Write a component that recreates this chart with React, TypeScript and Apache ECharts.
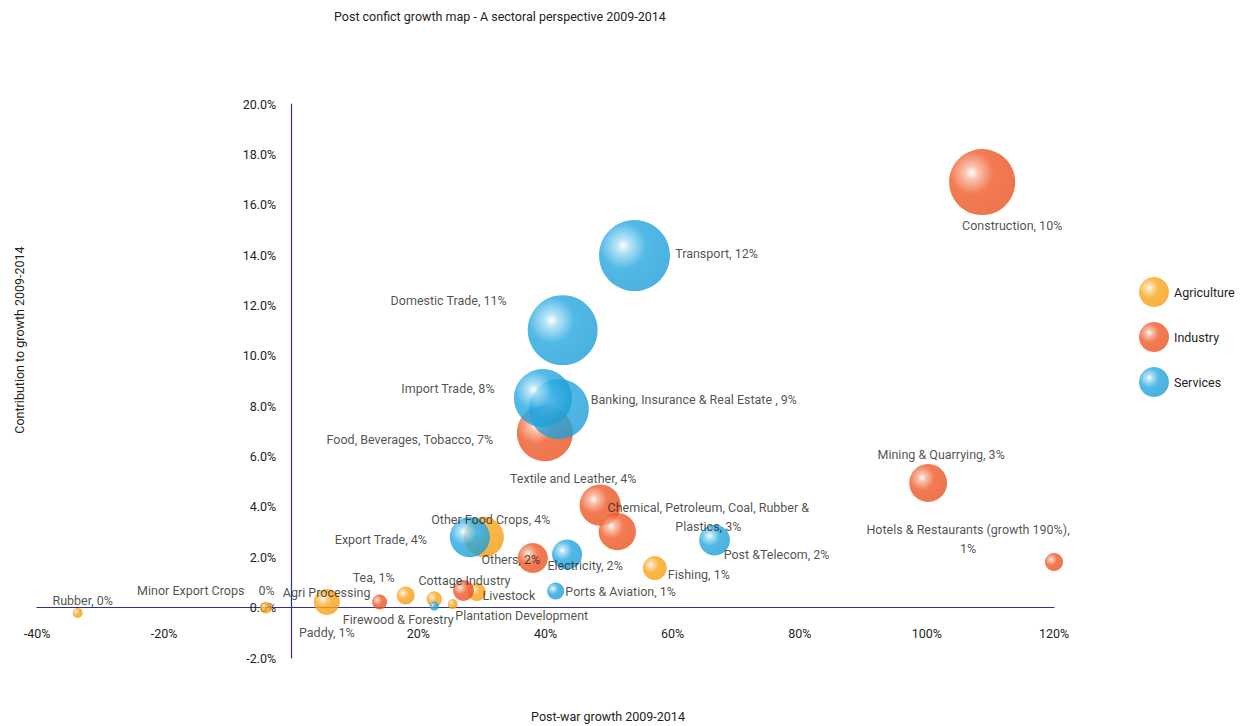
import React, { useEffect, useRef } from "react";
import * as echarts from "echarts";

// ---- data ----
const groups = ["Agriculture", "Industry", "Services"];

const sectorNames = [
  "Rubber", "Minor Export Crops", "Paddy", "Tea", "Firewood & Forestry", "Plantation Development",
  "Livestock", "Other Food Crops", "Fishing",
  "Agri Processing", "Cottage Industry", "Others", "Food, Beverages, Tobacco", "Textile and Leather",
  "Chemical, Petroleum, Coal, Rubber & Plastics", "Mining & Quarrying", "Construction", "Hotels & Restaurants",
  "(unlabelled)", "Ports & Aviation", "Electricity", "Post &Telecom", "Export Trade",
  "Banking, Insurance & Real Estate", "Import Trade", "Domestic Trade", "Transport",
];
const sectorGroup = [
  "Agriculture", "Agriculture", "Agriculture", "Agriculture", "Agriculture", "Agriculture",
  "Agriculture", "Agriculture", "Agriculture",
  "Industry", "Industry", "Industry", "Industry", "Industry",
  "Industry", "Industry", "Industry", "Industry",
  "Services", "Services", "Services", "Services", "Services",
  "Services", "Services", "Services", "Services",
];
// Post-war growth 2009-2014 (%)
const growthPct = [
  -33.6, -4.0, 5.6, 18.0, 22.5, 25.4, 29.2, 30.3, 57.2,
  13.9, 27.1, 38.0, 39.9, 48.6, 51.3, 100.2, 108.7, 120.0,
  22.5, 41.6, 43.4, 66.6, 28.1, 42.1, 39.6, 42.7, 54.0,
];
// Contribution to growth 2009-2014 (%)
const contributionPct = [
  -0.21, 0.0, 0.22, 0.48, 0.34, 0.14, 0.62, 2.8, 1.57,
  0.22, 0.68, 1.97, 6.93, 4.07, 3.02, 4.95, 16.9, 1.81,
  0.06, 0.66, 2.11, 2.68, 2.8, 7.89, 8.32, 11.02, 13.98,
];
// Share (bubble size, %)
const sharePct = [
  0.23, 0.33, 1.56, 0.75, 0.55, 0.23, 0.75, 3.7, 1.33,
  0.52, 1.0, 2.1, 7.25, 3.9, 3.2, 3.3, 10.1, 0.75,
  0.19, 0.67, 2.1, 2.2, 3.7, 8.3, 7.8, 11.3, 11.65,
];
const labelTexts = [
  "Rubber, 0%", "{a|Minor Export Crops}{b|0%}", "Paddy, 1%", "Tea, 1%", "Firewood & Forestry", "Plantation Development",
  "Livestock", "Other Food Crops, 4%", "Fishing, 1%",
  "Agri Processing", "Cottage Industry", "Others, 2%", "Food, Beverages, Tobacco, 7%", "Textile and Leather, 4%",
  "Chemical, Petroleum, Coal, Rubber &\nPlastics, 3%", "Mining & Quarrying, 3%", "Construction, 10%",
  "Hotels & Restaurants (growth 190%),\n1%",
  "", "Ports & Aviation, 1%", "Electricity, 2%", "Post &Telecom, 2%", "Export Trade, 4%",
  "Banking, Insurance & Real Estate , 9%", "Import Trade, 8%", "Domestic Trade, 11%", "Transport, 12%",
];
const xTicks = [-40, -20, 0, 20, 40, 60, 80, 100, 120];
const yTicks = [-2, 0, 2, 4, 6, 8, 10, 12, 14, 16, 18, 20];

// ---- label placement (style) ----
const labelOffsets: [number, number][] = [
  [5, -12], [-60, -17], [0, 30], [-32, -18], [-36, 20], [69, 11],
  [32, 3], [7, -18], [44, 6],
  [-53, -10], [1, -10], [-22, 1], [-135, 6], [-27, -27],
  [91, -15], [13, -28], [30, 43], [-86, -23],
  [0, 0], [65, 0], [18, 11], [62, 14], [-89, 2],
  [135, -9], [-95, -10], [-114, -30], [82, -2],
];

const FONT = "Roboto, 'Liberation Sans', sans-serif";
const FS = 12.5;
const TXT = "#231f20";
const AXIS = "#2e3192";

// grid geometry (px)
const G_LEFT = 37, G_RIGHT = 190, G_TOP = 104, G_BOTTOM = 68;
const PLOT_W = 1244 - G_LEFT - G_RIGHT;
const PLOT_H = 726 - G_TOP - G_BOTTOM;

const palette: Record<string, [string, string, string]> = {
  Agriculture: ["#f9a51a", "#fdd69a", "#f59d12"],
  Industry: ["#ef5a28", "#f8b49a", "#e9521f"],
  Services: ["#26a8e0", "#a2dcf5", "#1e9dd6"],
};

function ball(g: string) {
  const [base, light, edge] = palette[g];
  return {
    type: "radial",
    x: 0.34,
    y: 0.36,
    r: 0.72,
    colorStops: [
      { offset: 0, color: "#ffffff" },
      { offset: 0.14, color: light },
      { offset: 0.45, color: base },
      { offset: 1, color: edge },
    ],
  } as any;
}

export default function App() {
  const ref = useRef<HTMLDivElement>(null);
  useEffect(() => {
    if (!ref.current) return;
    const chart = echarts.init(ref.current, null, { renderer: "svg" });

    const xMin = xTicks[0], xMax = xTicks[xTicks.length - 1];
    const yMin = yTicks[0], yMax = yTicks[yTicks.length - 1];
    // shift axes so they sit on the other axis's zero
    const xAxisOffset = -((0 - yMin) / (yMax - yMin)) * PLOT_H;
    const yAxisOffset = -((0 - xMin) / (xMax - xMin)) * PLOT_W;

    const series = groups.map((g) => ({
      type: "scatter",
      name: g,
      itemStyle: { color: ball(g) },
      symbolSize: (v: number[]) => 20.8 * Math.sqrt(v[2]),
      data: sectorNames
        .map((n, i) => ({ n, i }))
        .filter(({ i }) => sectorGroup[i] === g)
        .map(({ n, i }) => ({
          name: n,
          value: [growthPct[i], contributionPct[i], sharePct[i]],
          label: {
            show: labelTexts[i] !== "",
            formatter: labelTexts[i],
            position: "inside",
            offset: labelOffsets[i],
            align: "center",
            verticalAlign: "middle",
            color: TXT,
            fontFamily: FONT,
            fontSize: FS,
            lineHeight: 19,
            rich: {
              a: { color: TXT, fontFamily: FONT, fontSize: FS },
              b: { color: TXT, fontFamily: FONT, fontSize: FS, padding: [0, 0, 0, 14] },
            },
          },
        })),
    }));

    chart.setOption({
      animation: false,
      backgroundColor: "#ffffff",
      title: {
        text: "Post confict growth map - A sectoral perspective 2009-2014",
        left: 334,
        top: 10,
        padding: 0,
        textStyle: { fontFamily: FONT, fontSize: FS, fontWeight: "normal", color: TXT },
      },
      legend: {
        orient: "vertical",
        left: 1139,
        top: 277,
        padding: 0,
        itemWidth: 30,
        itemHeight: 30,
        itemGap: 15,
        icon: "circle",
        data: groups,
        textStyle: { fontFamily: FONT, fontSize: FS, color: TXT },
      },
      grid: {
        left: G_LEFT,
        right: G_RIGHT,
        top: G_TOP,
        bottom: G_BOTTOM,
        containLabel: false,
        outerBoundsMode: "none",
      },
      xAxis: {
        type: "value",
        min: xMin,
        max: xMax,
        interval: xTicks[1] - xTicks[0],
        offset: xAxisOffset,
        axisLine: { show: true, onZero: false, lineStyle: { color: AXIS, width: 1.2 } },
        axisTick: { show: false },
        splitLine: { show: false },
        axisLabel: {
          margin: 19,
          color: TXT,
          fontFamily: FONT,
          fontSize: FS,
          formatter: (v: number) => (v === 0 ? "" : `${v}%`),
        },
      },
      yAxis: {
        type: "value",
        min: yMin,
        max: yMax,
        interval: yTicks[1] - yTicks[0],
        offset: yAxisOffset,
        axisLine: { show: true, onZero: false, lineStyle: { color: AXIS, width: 1.2 } },
        axisTick: { show: false },
        splitLine: { show: false },
        axisLabel: {
          margin: 15,
          color: TXT,
          fontFamily: FONT,
          fontSize: FS,
          formatter: (v: number) => `${v.toFixed(1)}%`,
        },
      },
      graphic: [
        {
          type: "text",
          x: 608,
          y: 716,
          style: {
            text: "Post-war growth 2009-2014",
            fill: TXT,
            font: `${FS}px ${FONT}`,
            textAlign: "center",
            textVerticalAlign: "middle",
          },
        },
        {
          type: "text",
          x: 19,
          y: 340,
          rotation: Math.PI / 2,
          style: {
            text: "Contribution to growth 2009-2014",
            fill: TXT,
            font: `${FS}px ${FONT}`,
            textAlign: "center",
            textVerticalAlign: "middle",
          },
        },
      ],
      series,
    } as any);

    return () => chart.dispose();
  }, []);

  return (
    <div
      ref={ref}
      style={{ position: "absolute", left: 0, top: 0, width: 1244, height: 726 }}
    />
  );
}
